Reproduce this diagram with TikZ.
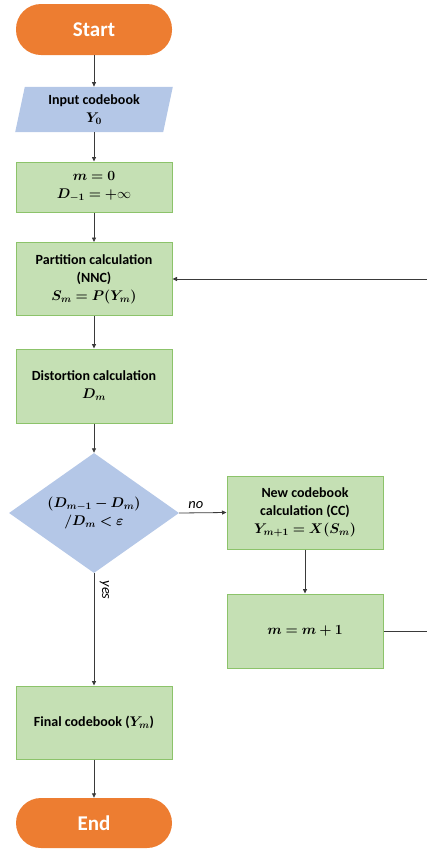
\documentclass[tikz,border=0pt]{standalone}
\usepackage{fix-cm}
\usepackage{amsmath,bm}
\usepackage{fontspec}
\setmainfont{Carlito}
\usetikzlibrary{shapes.geometric,arrows.meta}

\definecolor{termfill}{HTML}{ED7D31}
\definecolor{procfill}{HTML}{C5E0B4}
\definecolor{procline}{HTML}{8CC36A}
\definecolor{iofill}{HTML}{B4C7E7}
\definecolor{linkcol}{HTML}{3A3A3A}

\tikzset{
  x=1pt, y=-1pt,
  body/.style={font=\fontsize{14}{18}\selectfont\bfseries, align=center, text=black},
  terminal/.style={rectangle, rounded corners=25pt, fill=termfill,
    minimum width=156pt, minimum height=51pt, inner sep=0pt,
    text=white, font=\fontsize{21}{24}\selectfont\bfseries},
  procbox/.style={body, rectangle, fill=procfill, draw=procline, line width=1pt,
    minimum width=156pt, inner sep=0pt},
  iobox/.style={body, trapezium, trapezium left angle=78, trapezium right angle=102,
    fill=iofill, minimum width=158pt, minimum height=43pt, inner sep=0pt},
  decision/.style={body, diamond, fill=iofill, minimum width=170pt,
    minimum height=120pt, aspect=1.4167, inner sep=0pt},
  link/.style={draw=linkcol, line width=0.8pt},
  flow/.style={link, -{Triangle[length=4.5pt,width=4pt]}},
  edgelabel/.style={font=\fontsize{14.5}{16}\selectfont\itshape, text=black}
}

\begin{document}
\begin{tikzpicture}
  \useasboundingbox (0,0) rectangle (427,849);

  % main column
  \node[terminal] (start) at (94,29.5) {Start};
  \node[iobox] (input) at (94,109.5) {Input codebook\\$\bm{Y_0}$};
  \node[procbox, minimum height=50pt] (init) at (94,187) {$\bm{m=0}$\\$\bm{D_{-1}=+}\infty$};
  \node[procbox, minimum height=73pt] (part) at (94,279) {Partition calculation\\(NNC)\\$\bm{S_m=P(Y_m)}$};
  \node[procbox, minimum height=74pt] (dist) at (94,386) {Distortion calculation\\$\bm{D_m}$};
  \node[decision] (test) at (94,513) {$\bm{(D_{m-1}-D_m)}$\\$\bm{/D_m<\varepsilon}$};
  \node[procbox, minimum height=73pt] (final) at (94,722.5) {Final codebook ($\bm{Y_m}$)};
  \node[terminal, minimum height=50pt] (end) at (94,823) {End};

  % update branch
  \node[procbox, minimum height=73pt] (newcb) at (305,512.5) {New codebook\\calculation (CC)\\$\bm{Y_{m+1}=X(S_m)}$};
  \node[procbox, minimum height=74pt] (incr) at (305,631) {$\bm{m=m+1}$};
  \coordinate (loopdown) at (429,631);
  \coordinate (loopup) at (429,279);

  % connectors
  \draw[flow] (start) -- (input);
  \draw[flow] (input) -- (init);
  \draw[flow] (init) -- (part);
  \draw[flow] (part) -- (dist);
  \draw[flow] (dist) -- (test);
  \draw[flow] (test.south) -- node[edgelabel, pos=0.15, right=2pt, rotate=-90, anchor=south] {yes} (final.north);
  \draw[flow] (test.east) -- node[edgelabel, above=1pt, pos=0.35] {no} (newcb.west);
  \draw[flow] (newcb) -- (incr);
  \draw[flow] (incr.east) -- (loopdown) -- (loopup) -- (part.east);
  \draw[flow] (final) -- (end);
\end{tikzpicture}
\end{document}
